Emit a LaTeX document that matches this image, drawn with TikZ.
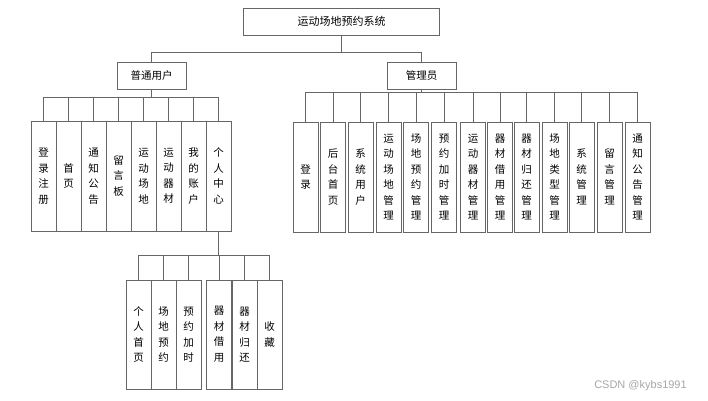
\documentclass[tikz,border=0pt]{standalone}
\usepackage{fontspec}
\usepackage{tikz}
\setmainfont{Liberation Sans}
\newfontfamily\cjk{Noto Sans CJK SC}

\begin{document}
\begin{tikzpicture}[x=1pt, y=-1pt, line width=1pt,
  every node/.style = {shape=rectangle, draw=black!60, line width=1pt,
    align=center, inner sep=0pt, font=\cjk\fontsize{10.5}{15.5}\selectfont},
  headbox/.style = {minimum height=27pt},
  colbox/.style = {minimum width=25pt, minimum height=110pt},
 ]
 \useasboundingbox (0,0) rectangle (708,400);
 % top levels
 \node[headbox, minimum width=196pt, font=\cjk\fontsize{11}{13}\selectfont] (sys) at (341.5,21.5) {运动场地预约系统};
 \node[headbox, minimum width=69pt] (user) at (151.5,76) {普通用户};
 \node[headbox, minimum width=69pt] (admin) at (421.5,75.5) {管理员};
 \coordinate (sysbar) at (0,52);
 \coordinate (ubar) at (0,97);
 \coordinate (abar) at (0,92);
 \coordinate (cbar) at (0,255);
 \draw[black!60] (sys.south) -- (sys.south |- sysbar);
 \draw[black!60] (user.north) |- (sysbar -| admin.north) -- (admin.north);

 % normal user
 \foreach \i/\t in {1/{登\\录\\注\\册}, 2/{首\\页}, 3/{通\\知\\公\\告}, 4/{留\\言\\板},
   5/{运\\动\\场\\地}, 6/{运\\动\\器\\材}, 7/{我\\的\\账\\户}, 8/{个\\人\\中\\心}}
   \node[colbox] (u\i) at (18.5+25*\i,176) {\t};
 \draw[black!60] (user.south) -- (user.south |- ubar);
 \draw[black!60] (u1.north |- ubar) -- (u8.north |- ubar);
 \foreach \i in {1,...,8}
   \draw[black!60] (u\i.north) -- (u\i.north |- ubar);

 % personal centre
 \foreach \i/\x/\t in {1/138.5/{个\\人\\首\\页}, 2/163.5/{场\\地\\预\\约}, 3/188.5/{预\\约\\加\\时},
   4/219/{器\\材\\借\\用}, 5/244.5/{器\\材\\归\\还}, 6/269.5/{收\\藏}}
   \node[colbox, minimum height=109pt] (c\i) at (\x,334.5) {\t};
 \draw[black!60] (u8.south) -- (u8.south |- cbar);
 \draw[black!60] (c1.north |- cbar) -- (c6.north |- cbar);
 \foreach \i in {1,...,6}
   \draw[black!60] (c\i.north) -- (c\i.north |- cbar);

 % administrator
 \foreach \i/\x/\t in {1/305.5/{登\\录}, 2/333/{后\\台\\首\\页}, 3/360.5/{系\\统\\用\\户},
   4/388.5/{运\\动\\场\\地\\管\\理}, 5/416/{场\\地\\预\\约\\管\\理}, 6/444/{预\\约\\加\\时\\管\\理},
   7/473/{运\\动\\器\\材\\管\\理}, 8/500/{器\\材\\借\\用\\管\\理}, 9/526.5/{器\\材\\归\\还\\管\\理},
   10/554.5/{场\\地\\类\\型\\管\\理}, 11/581.5/{系\\统\\管\\理}, 12/609.5/{留\\言\\管\\理},
   13/637.5/{通\\知\\公\\告\\管\\理}}
   \node[colbox] (a\i) at (\x,177) {\t};
 \draw[black!60] (admin.south) -- (admin.south |- abar);
 \draw[black!60] (a1.north |- abar) -- (a13.north |- abar);
 \foreach \i in {1,...,13}
   \draw[black!60] (a\i.north) -- (a\i.north |- abar);

 % watermark
 \node[draw=none, text=black!35, font=\fontsize{11}{13}\selectfont] (mark) at (640.5,386) {CSDN @kybs1991};
\end{tikzpicture}
\end{document}
